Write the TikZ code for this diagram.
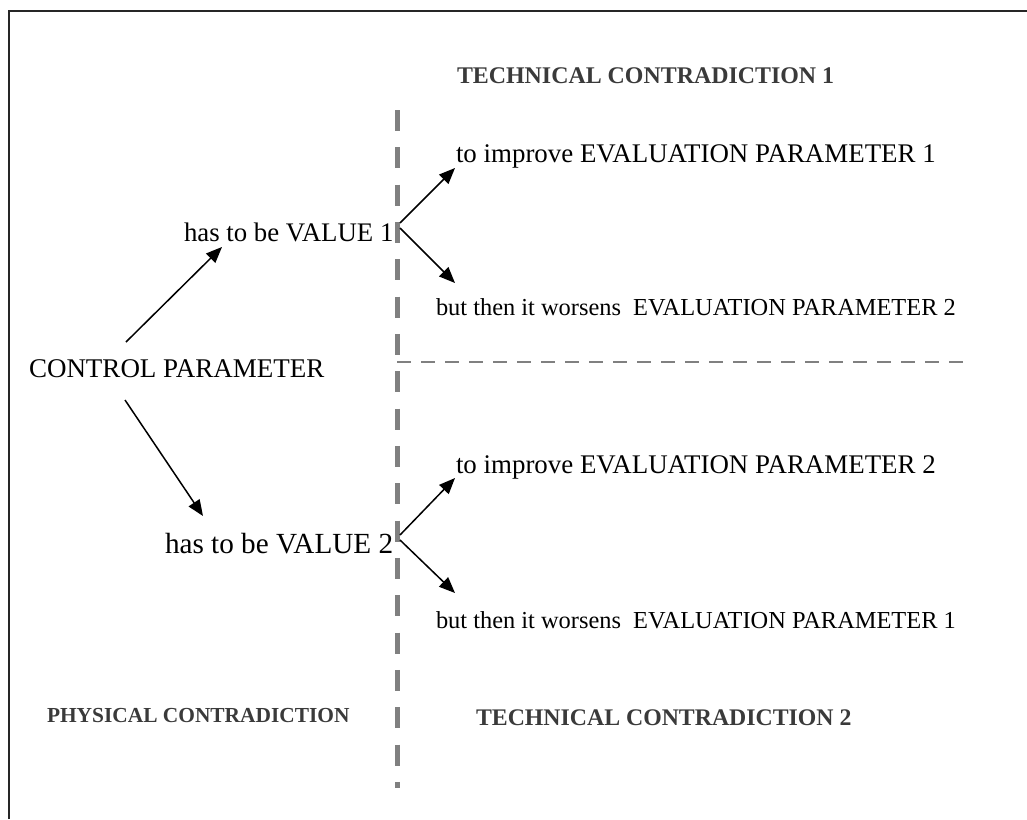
\documentclass[tikz,border=0pt]{standalone}
\usepackage{fontspec}
\setmainfont{Liberation Serif}
\usetikzlibrary{arrows.meta,calc}
\definecolor{divider}{HTML}{808080}
\definecolor{headgray}{HTML}{3A3A3A}
\tikzset{
  lbl/.style={anchor=base west, inner sep=0pt, outer sep=0pt},
  head/.style={lbl, text=headgray, font=\bfseries},
  arr/.style={line width=1.5pt, -{Triangle[length=16pt,width=13pt]}},
  vdiv/.style={draw=divider, line width=5pt, dash pattern=on 21pt off 16.33pt},
  hdiv/.style={draw=divider, line width=2.6pt, dash pattern=on 14pt off 10pt},
  frame/.style={draw=black!85, line width=2pt}
}
\newcommand{\fs}[1]{\fontsize{#1}{#1}\selectfont}
\begin{document}
\begin{tikzpicture}[x=1pt,y=-1pt]
\useasboundingbox (0,0) rectangle (1027,819);
% open frame (top and left edges)
\draw[frame] (9,819) -- (9,11) -- (1027,11);

% dividers
\draw[vdiv] (397,110) -- (397,788);
\draw[hdiv] (397,362) -- (963,362);

% labels
\node[head] (tc1) at (457,83) {\fs{23.9}TECHNICAL CONTRADICTION 1};
\node[lbl] (imp1) at (456,162) {\fs{26.9}to improve EVALUATION PARAMETER 1};
\node[lbl] (v1) at (184,241) {\fs{26.8}has to be VALUE 1};
\node[lbl] (w1) at (436,315) {\fs{24.4}but then it worsens \ EVALUATION PARAMETER 2};
\node[lbl] (ctrl) at (29,377) {\fs{27}CONTROL PARAMETER};
\node[lbl] (imp2) at (456,473) {\fs{26.9}to improve EVALUATION PARAMETER 2};
\node[lbl] (v2) at (165,553) {\fs{29.2}has to be VALUE 2};
\node[lbl] (w2) at (436,628) {\fs{24.4}but then it worsens \ EVALUATION PARAMETER 1};
\node[head] (pc) at (47,722) {\fs{21.4}PHYSICAL CONTRADICTION};
\node[head] (tc2) at (476,725) {\fs{23.8}TECHNICAL CONTRADICTION 2};

% control parameter branches
\draw[arr] ($(ctrl.base west)+(97,-35)$) -- ($(v1.base west)+(38,6)$);
\draw[arr] ($(ctrl.base west)+(96,23)$) -- ($(v2.base west)+(38,-37)$);

% value 1 branches
\draw[arr] ($(v1.base west)+(216,-18)$) -- ($(imp1.base west)+(-1,6)$);
\draw[arr] ($(v1.base west)+(216,-13)$) -- ($(w1.base west)+(19,-32)$);

% value 2 branches
\draw[arr] ($(v2.base west)+(235,-18)$) -- ($(imp2.base west)+(-1,5)$);
\draw[arr] ($(v2.base west)+(235,-13)$) -- ($(w2.base west)+(19,-35)$);
\end{tikzpicture}
\end{document}
